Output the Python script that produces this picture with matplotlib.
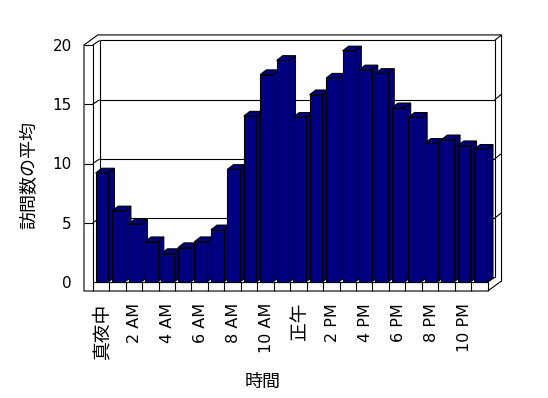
import numpy as np
import matplotlib.pyplot as plt
from matplotlib.patches import Polygon

plt.rcParams['font.family'] = ['DejaVu Sans', 'Noto Sans CJK JP']

# average visits per hour of day
hours = list(range(24))
visits = [9.2, 6.0, 4.9, 3.4, 2.4, 2.9, 3.4, 4.4, 9.5, 14.0, 17.5, 18.7,
          13.9, 15.8, 17.2, 19.5, 17.9, 17.6, 14.7, 13.9, 11.7, 12.0, 11.5, 11.2]
hour_labels = ['真夜中', '2 AM', '4 AM', '6 AM', '8 AM', '10 AM',
               '正午', '2 PM', '4 PM', '6 PM', '8 PM', '10 PM']
y_ticks = [0, 5, 10, 15, 20]

n = len(hours)
ymax = y_ticks[-1]

# fake 3d look (depth offsets in data units)
dx, dy = 0.42, 0.38        # front -> back wall
tx, ty = 0.42, 0.47        # wall thickness
bdx, bdy = 0.37, 0.40      # bar depth
wall_x = -0.53             # outer edge of left wall
floor_y = -0.76            # bottom of floor slab
bar_l, bar_r = 0.18, 0.95
navy = '#000080'
lw = 0.8

fig = plt.figure(figsize=(5.48, 3.98), dpi=100)
ax = fig.add_axes([92.7 / 548, 1 - 282 / 398, 395 / 548, 237 / 398])
ax.set_xlim(0, n)
ax.set_ylim(0, ymax)
ax.patch.set_visible(False)
for s in ax.spines.values():
    s.set_visible(False)


def seg(p, q, z=2):
    ax.plot([p[0], q[0]], [p[1], q[1]], color='black', lw=lw,
            clip_on=False, zorder=z, solid_capstyle='butt')


# outer box
ox, oy = dx + tx, dy + ty
box = [(wall_x, floor_y), (n, floor_y), (n + ox, floor_y + oy),
       (n + ox, ymax + oy), (wall_x + ox, ymax + oy), (wall_x, ymax)]
ax.add_patch(Polygon(box, closed=True, facecolor='white', edgecolor='black',
                     lw=lw, clip_on=False, zorder=1))

# left wall
seg((0, 0), (0, ymax))
seg((wall_x, ymax), (0, ymax))
seg((0, ymax), (dx, ymax + dy))
# back wall inner face
seg((dx, dy), (dx, ymax + dy))
seg((dx, ymax + dy), (n + dx, ymax + dy))
seg((n + dx, dy), (n + dx, ymax + dy))
seg((n + dx, ymax + dy), (n + ox, ymax + oy))
seg((dx, dy), (n + dx, dy))
# floor
seg((0, 0), (n, 0))
seg((n, 0), (n + dx, dy))
for i in range(n + 1):
    seg((i, floor_y), (i, 0))

# gridlines
for v in y_ticks[1:-1]:
    seg((wall_x, v), (0, v))
    seg((0, v), (dx, v + dy))
    seg((dx, v + dy), (n + dx, v + dy))
    seg((n + dx, v + dy), (n + ox, v + oy))

# bars
for i, v in zip(hours, visits):
    x0, x1 = i + bar_l, i + bar_r
    z = 3 + i * 0.01
    faces = [
        [(x1, 0), (x1 + bdx, bdy), (x1 + bdx, v + bdy), (x1, v)],
        [(x0, v), (x1, v), (x1 + bdx, v + bdy), (x0 + bdx, v + bdy)],
        [(x0, 0), (x1, 0), (x1, v), (x0, v)],
    ]
    for f in faces:
        ax.add_patch(Polygon(f, closed=True, facecolor=navy, edgecolor='black',
                             lw=lw, zorder=z, clip_on=False))

# ticks and labels
ax.set_yticks(y_ticks)
ax.set_yticklabels([str(t) for t in y_ticks], fontsize=11)
ax.set_xticks([i + (bar_l + bar_r) / 2 for i in hours[::2]])
ax.set_xticklabels(hour_labels, rotation=90, fontsize=11.5, va='top')
for lab in ax.get_xticklabels():
    if not lab.get_text()[0].isascii():
        lab.set_fontsize(13.5)
ax.tick_params(axis='y', length=0, pad=15)
ax.tick_params(axis='x', length=0, pad=15)

ax.set_ylabel('訪問数の平均', fontsize=13)
ax.yaxis.set_label_coords(-0.1385, 0.4515)
ax.set_xlabel('時間', fontsize=13)
ax.xaxis.set_label_coords(0.431, -0.385)

fig.savefig('out.png', dpi=100)
